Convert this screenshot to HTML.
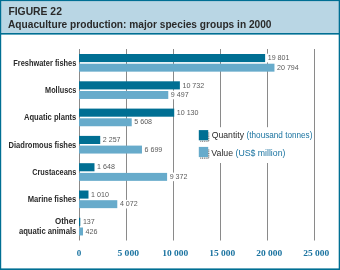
<!DOCTYPE html>
<html><head><meta charset="utf-8"><style>
html,body{margin:0;padding:0;background:#fff;width:340px;height:270px;overflow:hidden}
svg{display:block;will-change:transform;font-family:"Liberation Sans",sans-serif}
</style></head><body>
<svg width="340" height="270" viewBox="0 0 340 270">
<rect x="0" y="0" width="340" height="270" fill="#ffffff"/>
<rect x="0" y="0" width="340" height="33.2" fill="#b9d6e4"/>
<rect x="0" y="33" width="340" height="1.6" fill="#006f93"/>
<text x="8.4" y="15.2" font-family="Liberation Sans" font-weight="bold" font-size="10.5" fill="#2a2a2a" textLength="53.5" lengthAdjust="spacingAndGlyphs">FIGURE 22</text>
<text x="8.0" y="27.8" font-family="Liberation Sans" font-weight="bold" font-size="10.5" fill="#2a2a2a" textLength="263.5" lengthAdjust="spacingAndGlyphs">Aquaculture production: major species groups in 2000</text>
<rect x="79.0" y="49" width="1" height="191.5" fill="#8a8a8a"/>
<rect x="126.0" y="49" width="1" height="191.5" fill="#8a8a8a"/>
<rect x="173.0" y="49" width="1" height="191.5" fill="#8a8a8a"/>
<rect x="220.0" y="49" width="1" height="191.5" fill="#8a8a8a"/>
<rect x="267.0" y="49" width="1" height="191.5" fill="#8a8a8a"/>
<rect x="314.0" y="49" width="1" height="191.5" fill="#8a8a8a"/>
<rect x="196" y="127.2" width="116" height="35.8" fill="#ffffff"/>
<rect x="265.73" y="53.70" width="24.91" height="8.70" fill="#ffffff"/>
<rect x="79.0" y="54.00" width="186.13" height="8.1" fill="#006f93"/>
<text x="267.73" y="60.25" font-family="Liberation Sans" font-size="7.1" fill="#5a5a5a">19 801</text>
<rect x="275.06" y="63.40" width="24.91" height="8.55" fill="#ffffff"/>
<rect x="79.0" y="63.70" width="195.46" height="7.95" fill="#67abcb"/>
<text x="277.06" y="69.88" font-family="Liberation Sans" font-size="7.1" fill="#5a5a5a">20 794</text>
<text x="76.3" y="65.90" text-anchor="end" font-family="Liberation Sans" font-weight="bold" font-size="9" fill="#2a2a2a" textLength="63.00" lengthAdjust="spacingAndGlyphs">Freshwater fishes</text>
<rect x="180.48" y="81.00" width="24.91" height="8.70" fill="#ffffff"/>
<rect x="79.0" y="81.30" width="100.88" height="8.1" fill="#006f93"/>
<text x="182.48" y="87.55" font-family="Liberation Sans" font-size="7.1" fill="#5a5a5a">10 732</text>
<rect x="168.87" y="90.70" width="20.96" height="8.55" fill="#ffffff"/>
<rect x="79.0" y="91.00" width="89.27" height="7.95" fill="#67abcb"/>
<text x="170.87" y="97.17" font-family="Liberation Sans" font-size="7.1" fill="#5a5a5a">9 497</text>
<text x="76.3" y="93.20" text-anchor="end" font-family="Liberation Sans" font-weight="bold" font-size="9" fill="#2a2a2a" textLength="31.20" lengthAdjust="spacingAndGlyphs">Molluscs</text>
<rect x="174.82" y="108.30" width="24.91" height="8.70" fill="#ffffff"/>
<rect x="79.0" y="108.60" width="95.22" height="8.1" fill="#006f93"/>
<text x="176.82" y="114.85" font-family="Liberation Sans" font-size="7.1" fill="#5a5a5a">10 130</text>
<rect x="132.32" y="118.00" width="20.96" height="8.55" fill="#ffffff"/>
<rect x="79.0" y="118.30" width="52.72" height="7.95" fill="#67abcb"/>
<text x="134.32" y="124.47" font-family="Liberation Sans" font-size="7.1" fill="#5a5a5a">5 608</text>
<text x="76.3" y="120.00" text-anchor="end" font-family="Liberation Sans" font-weight="bold" font-size="9" fill="#2a2a2a" textLength="52.40" lengthAdjust="spacingAndGlyphs">Aquatic plants</text>
<rect x="100.82" y="135.60" width="20.96" height="8.70" fill="#ffffff"/>
<rect x="79.0" y="135.90" width="21.22" height="8.1" fill="#006f93"/>
<text x="102.82" y="142.15" font-family="Liberation Sans" font-size="7.1" fill="#5a5a5a">2 257</text>
<rect x="142.57" y="145.30" width="20.96" height="8.55" fill="#ffffff"/>
<rect x="79.0" y="145.60" width="62.97" height="7.95" fill="#67abcb"/>
<text x="144.57" y="151.77" font-family="Liberation Sans" font-size="7.1" fill="#5a5a5a">6 699</text>
<text x="76.3" y="147.50" text-anchor="end" font-family="Liberation Sans" font-weight="bold" font-size="9" fill="#2a2a2a" textLength="67.70" lengthAdjust="spacingAndGlyphs">Diadromous fishes</text>
<rect x="95.09" y="162.90" width="20.96" height="8.70" fill="#ffffff"/>
<rect x="79.0" y="163.20" width="15.49" height="8.1" fill="#006f93"/>
<text x="97.09" y="169.45" font-family="Liberation Sans" font-size="7.1" fill="#5a5a5a">1 648</text>
<rect x="167.70" y="172.60" width="20.96" height="8.55" fill="#ffffff"/>
<rect x="79.0" y="172.90" width="88.10" height="7.95" fill="#67abcb"/>
<text x="169.70" y="179.07" font-family="Liberation Sans" font-size="7.1" fill="#5a5a5a">9 372</text>
<text x="76.3" y="174.60" text-anchor="end" font-family="Liberation Sans" font-weight="bold" font-size="9" fill="#2a2a2a" textLength="44.10" lengthAdjust="spacingAndGlyphs">Crustaceans</text>
<rect x="89.09" y="190.20" width="20.96" height="8.70" fill="#ffffff"/>
<rect x="79.0" y="190.50" width="9.49" height="8.1" fill="#006f93"/>
<text x="91.09" y="196.75" font-family="Liberation Sans" font-size="7.1" fill="#5a5a5a">1 010</text>
<rect x="117.88" y="199.90" width="20.96" height="8.55" fill="#ffffff"/>
<rect x="79.0" y="200.20" width="38.28" height="7.95" fill="#67abcb"/>
<text x="119.88" y="206.37" font-family="Liberation Sans" font-size="7.1" fill="#5a5a5a">4 072</text>
<text x="76.3" y="202.40" text-anchor="end" font-family="Liberation Sans" font-weight="bold" font-size="9" fill="#2a2a2a" textLength="48.60" lengthAdjust="spacingAndGlyphs">Marine fishes</text>
<rect x="80.89" y="217.50" width="15.04" height="8.70" fill="#ffffff"/>
<rect x="79.0" y="217.80" width="1.29" height="8.1" fill="#006f93"/>
<text x="82.89" y="224.05" font-family="Liberation Sans" font-size="7.1" fill="#5a5a5a">137</text>
<rect x="83.60" y="227.20" width="15.04" height="8.55" fill="#ffffff"/>
<rect x="79.0" y="227.50" width="4.00" height="7.95" fill="#67abcb"/>
<text x="85.60" y="233.67" font-family="Liberation Sans" font-size="7.1" fill="#5a5a5a">426</text>
<text x="76.3" y="223.70" text-anchor="end" font-family="Liberation Sans" font-weight="bold" font-size="9" fill="#2a2a2a" textLength="21.40" lengthAdjust="spacingAndGlyphs">Other</text>
<text x="76.3" y="233.80" text-anchor="end" font-family="Liberation Sans" font-weight="bold" font-size="9" fill="#2a2a2a" textLength="57.40" lengthAdjust="spacingAndGlyphs">aquatic animals</text>
<text x="79.10" y="255.6" text-anchor="middle" font-family="Liberation Serif" font-weight="bold" font-size="9" fill="#1a73a0">0</text>
<text x="128.20" y="255.6" text-anchor="middle" font-family="Liberation Serif" font-weight="bold" font-size="9" fill="#1a73a0" textLength="21.6" lengthAdjust="spacingAndGlyphs">5 000</text>
<text x="175.20" y="255.6" text-anchor="middle" font-family="Liberation Serif" font-weight="bold" font-size="9" fill="#1a73a0" textLength="26.0" lengthAdjust="spacingAndGlyphs">10 000</text>
<text x="222.20" y="255.6" text-anchor="middle" font-family="Liberation Serif" font-weight="bold" font-size="9" fill="#1a73a0" textLength="26.0" lengthAdjust="spacingAndGlyphs">15 000</text>
<text x="269.20" y="255.6" text-anchor="middle" font-family="Liberation Serif" font-weight="bold" font-size="9" fill="#1a73a0" textLength="26.0" lengthAdjust="spacingAndGlyphs">20 000</text>
<text x="316.20" y="255.6" text-anchor="middle" font-family="Liberation Serif" font-weight="bold" font-size="9" fill="#1a73a0" textLength="26.0" lengthAdjust="spacingAndGlyphs">25 000</text>
<rect x="198.8" y="130.1" width="9.4" height="10.2" fill="#006f93"/>
<path d="M208.75 132.6 V141.29999999999998 H200.2" fill="none" stroke="#6a6a6a" stroke-width="1.1" stroke-dasharray="1 0.8"/>
<rect x="198.8" y="146.9" width="9.4" height="10.2" fill="#67abcb"/>
<path d="M208.75 149.4 V158.1 H200.2" fill="none" stroke="#6a6a6a" stroke-width="1.1" stroke-dasharray="1 0.8"/>
<text x="211.70" y="138.1" font-family="Liberation Sans" font-size="9" fill="#2a2a2a" textLength="32.30" lengthAdjust="spacingAndGlyphs">Quantity</text>
<text x="246.60" y="138.1" font-family="Liberation Sans" font-size="9" fill="#1a73a0" textLength="65.80" lengthAdjust="spacingAndGlyphs">(thousand tonnes)</text>
<text x="211.30" y="155.9" font-family="Liberation Sans" font-size="9" fill="#2a2a2a" textLength="21.80" lengthAdjust="spacingAndGlyphs">Value</text>
<text x="235.50" y="155.9" font-family="Liberation Sans" font-size="9" fill="#1a73a0" textLength="49.90" lengthAdjust="spacingAndGlyphs">(US$ million)</text>
<rect x="0" y="0" width="1.2" height="270" fill="#006f93"/>
<rect x="0" y="0" width="340" height="1.1" fill="#006f93"/>
<rect x="338.7" y="0" width="1.3" height="270" fill="#006f93"/>
<rect x="0" y="268.4" width="340" height="1.6" fill="#006f93"/>
</svg>
</body></html>
